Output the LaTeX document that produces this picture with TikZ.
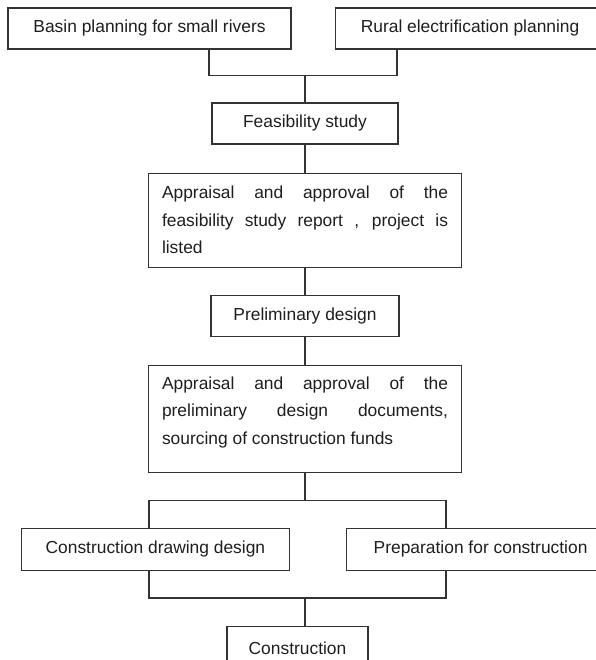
\documentclass[tikz,border=0pt]{standalone}
\usepackage{fontspec}
\setmainfont{Liberation Sans}
\usetikzlibrary{positioning,calc}
\newcommand\boxfont{\fontsize{17.4}{27.5}\selectfont}
\definecolor{inkline}{HTML}{333333}
\definecolor{inktext}{HTML}{1E1E1E}

\begin{document}
\begin{tikzpicture}[
        x=1pt, y=1pt,
        stage/.style={draw=inkline, line width=1.1pt, minimum height=41pt, inner sep=0pt, font=\boxfont, text=inktext},
        review/.style={draw=inkline, line width=1.1pt, text width=286pt, align=justify, inner xsep=13.5pt, inner ysep=0pt, font=\boxfont, text=inktext},
        link/.style={draw=inkline, line width=1.1pt}
    ]
    \useasboundingbox (0,0) rectangle (595,-660);

    % Planning sources
    \node[stage, minimum width=283pt] (basin) at (149.5,-28.5) {Basin planning for small rivers};
    \node[stage, minimum width=270pt, right=43pt of basin] (rural) {Rural electrification planning};

    % Main column
    \node[stage, minimum width=186pt] (feas) at (305,-123.5) {Feasibility study};
    \node[review, minimum height=94pt, below=28pt of feas] (appr1) {Appraisal and approval of the\linebreak feasibility study report , project is\linebreak listed};
    \node[stage, minimum width=188pt, below=27pt of appr1] (prelim) {Preliminary design};
    \node[review, minimum height=107pt, below=28pt of prelim] (appr2) {Appraisal and approval of the\linebreak preliminary design documents,\linebreak sourcing of construction funds\par\vspace*{13pt}};

    % Parallel works
    \node[stage, minimum width=268pt, minimum height=42pt, below left=55pt and -142pt of appr2] (cdd) {Construction drawing design};
    \node[stage, minimum width=268pt, minimum height=42pt, below right=55pt and -116pt of appr2] (prep) {Preparation for construction};

    % Junctions
    \coordinate[above=27pt of feas] (jtop);
    \coordinate (jtopl) at ([xshift=-96pt]jtop);
    \coordinate (jtopr) at ([xshift=92pt]jtop);
    \coordinate[below=28pt of appr2] (jmid);
    \coordinate (jmidl) at ([xshift=-156pt]jmid);
    \coordinate (jmidr) at ([xshift=141pt]jmid);
    \coordinate (jbot) at ($(cdd.south -| jmid)+(0,-27)$);
    \coordinate (jbotl) at ([xshift=-156pt]jbot);
    \coordinate (jbotr) at ([xshift=141pt]jbot);

    \node[stage, minimum width=141pt, minimum height=43pt, below=28pt of jbot, xshift=-7.5pt] (constr) {Construction};

    % Connectors
    \draw[link] (basin.south -| jtopl) -- (jtopl) -- (jtopr) -- (rural.south -| jtopr);
    \draw[link] (jtop) -- (feas);
    \draw[link] (feas) -- (appr1);
    \draw[link] (appr1) -- (prelim);
    \draw[link] (prelim) -- (appr2);
    \draw[link] (appr2) -- (jmid);
    \draw[link] (cdd.north -| jmidl) -- (jmidl) -- (jmidr) -- (prep.north -| jmidr);
    \draw[link] (cdd.south -| jbotl) -- (jbotl) -- (jbotr) -- (prep.south -| jbotr);
    \draw[link] (jbot) -- (jbot |- constr.north);

\end{tikzpicture}
\end{document}
